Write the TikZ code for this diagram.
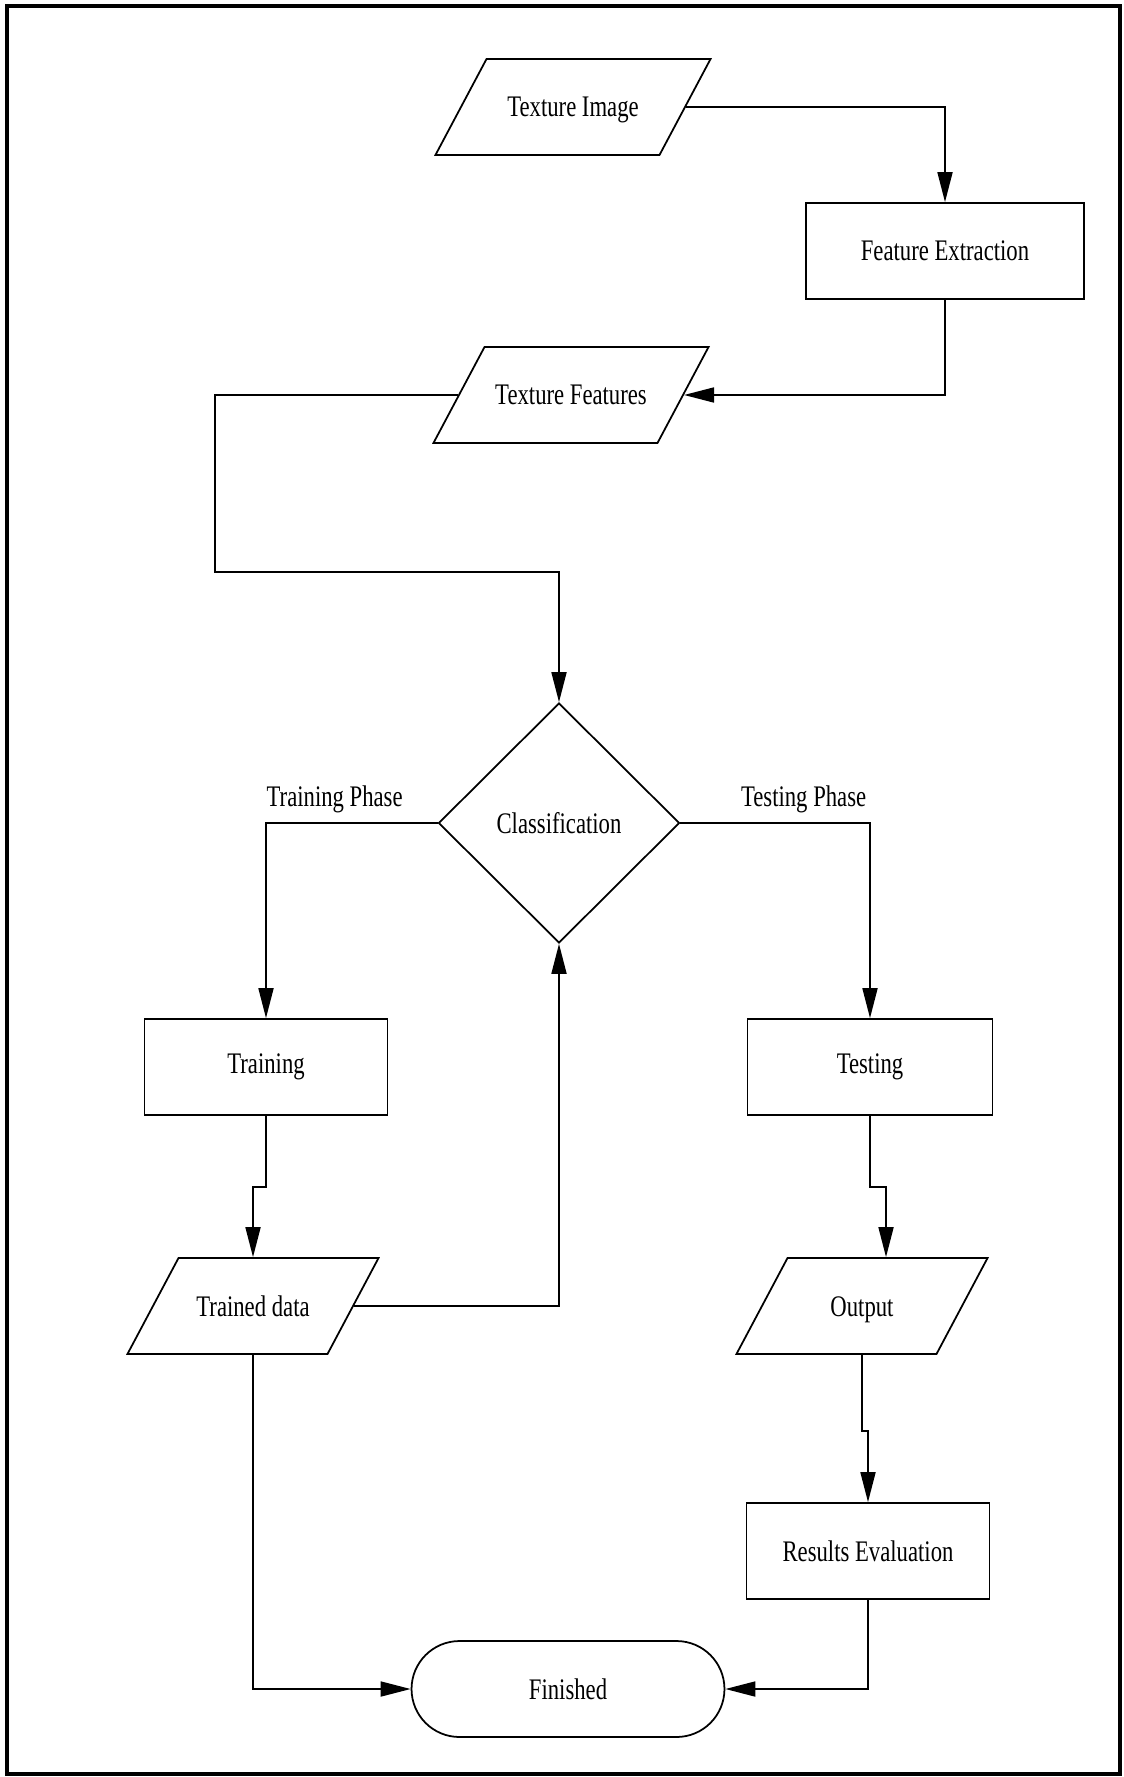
\documentclass[tikz,border=0pt]{standalone}
\usepackage{fontspec}
\setmainfont[FakeStretch=0.76]{Liberation Serif}
\usepackage{tikz}
\usetikzlibrary{arrows.meta,shapes.geometric}

\begin{document}
\begin{tikzpicture}[x=0.02cm,y=-0.02cm,
  every node/.style={font=\fontsize{17}{20}\selectfont},
  box/.style={draw,line width=1pt,minimum width=4.86cm,minimum height=1.92cm,align=center},
  io/.style={draw,line width=1pt,trapezium,trapezium left angle=62,trapezium right angle=118,align=flush center,text width=3.32cm,inner xsep=2pt,inner ysep=0pt,text height=1.16cm,text depth=0.76cm},
  dec/.style={draw,line width=1pt,diamond,minimum width=4.82cm,minimum height=4.8cm,inner sep=0pt},
  term/.style={draw,line width=1pt,rounded corners=0.96cm,minimum width=6.26cm,minimum height=1.92cm},
  arr/.style={-{Triangle[length=0.6cm,width=0.3cm]},line width=1pt},
  lbl/.style={above,inner sep=5pt}]
\useasboundingbox (0,0) rectangle (1123,1777);
\draw[line width=2.2pt] (7,6) rectangle (1120,1774);
% nodes
\node[io] (img) at (573,107) {Texture Image};
\node[box,minimum width=5.56cm] (fe) at (945,251) {Feature Extraction};
\node[io] (feat) at (571,395) {Texture Features};
\node[dec] (cls) at (559,823) {Classification};
\node[box] (train) at (266,1067) {Training};
\node[box,minimum width=4.9cm] (test) at (870,1067) {Testing};
\node[io,text width=2.84cm] (trd) at (253,1306) {Trained data};
\node[io,text width=2.84cm] (out) at (862,1306) {Output};
\node[box] (res) at (868,1551) {Results Evaluation};
\node[term] (fin) at (568,1689) {Finished};
\coordinate (loop) at (215,572);
% connectors
\draw[arr] (img.east) -| (fe.north);
\draw[arr] (fe.south) |- (feat.east);
\draw[arr] (feat.west) -| (loop) -| (cls.north);
\draw[arr] (cls.west) -| node[lbl,pos=0.3] (trph) {Training Phase} (train.north);
\draw[arr] (cls.east) -| node[lbl,pos=0.325] (teph) {Testing Phase} (test.north);
\draw[arr] (train.south) -- ++(0,71) -| (trd.north);
\draw[arr] (trd.east) -| (cls.south);
\draw[arr] (test.south) -- ++(0,71) -| ([xshift=0.48cm]out.north);
\draw[arr] (out.south) -- ++(0,76) -| (res.north);
\draw[arr] (res.south) |- (fin.east);
\draw[arr] (trd.south) |- (fin.west);
\end{tikzpicture}
\end{document}
